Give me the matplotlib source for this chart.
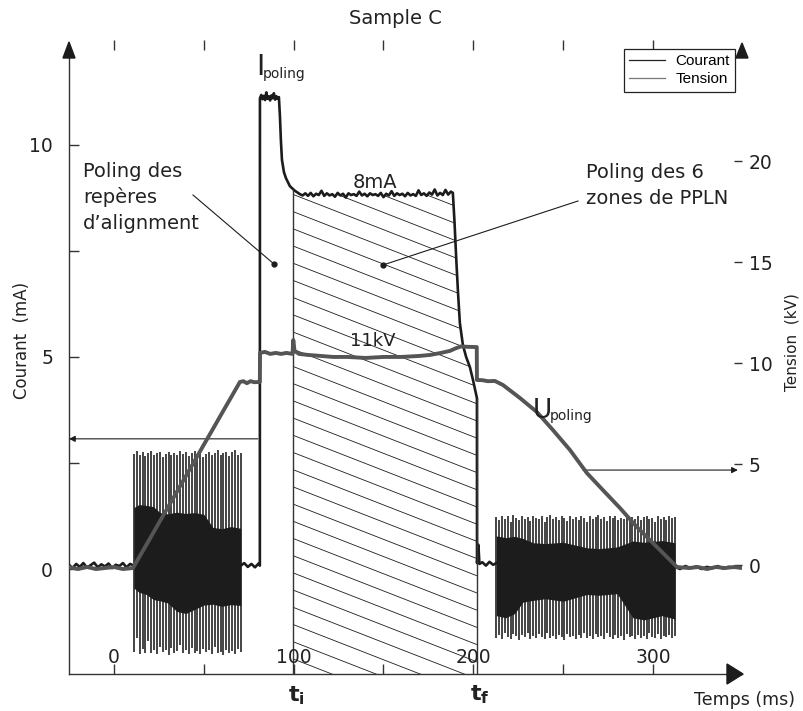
import numpy as np
import matplotlib
matplotlib.use("Agg")
import matplotlib.pyplot as plt
from matplotlib.lines import Line2D
from matplotlib.patches import Polygon

plt.rcParams["font.family"] = ["DejaVu Sans"]

# ------------------------------------------------------------------ data
title = "Sample C"
x_ticks = [0, 50, 100, 150, 200, 250, 300]
x_tick_labels = ["0", "", "100", "", "200", "", "300"]
y_left_ticks = [0, 2.5, 5, 7.5, 10]
y_left_labels = ["0", "", "5", "", "10"]
y_right_ticks = [0, 5, 10, 15, 20]
y_right_labels = ["0", "5", "10", "15", "20"]

# Courant (mA) - slow parts of the trace
cur_pre_t = [-25, -23, -21, -19, -17, -15, -13, -11, -9, -7, -5, -3, -1, 1, 3, 5, 7, 9, 11.1]
cur_pre_v = [0.10, 0.02, 0.12, 0.05, 0.14, 0.03, 0.09, 0.15, 0.04, 0.11, 0.06, 0.13, 0.02,
             0.10, 0.07, 0.14, 0.04, 0.12, 0.08]

cur_mid_t = [70.6, 72.5, 74.5, 76.5, 78.5, 80.5, 81.2, 81.25,
             82, 82.7, 83.4, 84.1, 84.8, 85.5, 86.2, 86.9, 87.6, 88.3, 89, 89.7, 90.4, 91.1, 91.8,
             92.4, 92.9, 93.5, 94.6, 95.7, 97.9, 100.7, 103.5,
             105, 106.5, 108, 109.5, 111, 112.5, 114, 115.5, 117, 118.5, 120, 121.5, 123, 124.5,
             126, 127.5, 129, 130.5, 132, 133.5, 135, 136.5, 138, 139.5, 141, 142.5, 144, 145.5,
             147, 148.5, 150, 151.5, 153, 154.5, 156, 157.5, 159, 160.5, 162, 163.5, 165, 166.5,
             168, 169.5, 171, 172.5, 174, 175.5, 177, 178.5, 180, 181.5, 183, 184.5, 186, 187.5,
             188.6, 189.5, 190.5, 191.5, 192.5, 194.2, 196.0, 198.1, 199.8, 202.0,
             202.05, 202.8, 203.4, 205.0, 207.0, 209.0, 211.0, 212.8]
cur_mid_v = [0.08, 0.14, 0.05, 0.12, 0.04, 0.13, 0.08, 11.10,
             11.18, 11.08, 11.16, 11.06, 11.24, 11.09, 11.15, 11.05, 11.17, 11.10, 11.22, 11.07,
             11.15, 11.09, 11.13,
             10.66, 10.12, 9.65, 9.36, 9.22, 9.03, 8.92, 8.84,
             8.81, 8.86, 8.80, 8.87, 8.79, 8.85, 8.82, 8.92, 8.80, 8.86, 8.81, 8.84, 8.78, 8.87,
             8.81, 8.85, 8.76, 8.86, 8.82, 8.84, 8.80, 8.90, 8.81, 8.85, 8.79, 8.86, 8.82, 8.84,
             8.80, 8.87, 8.77, 8.85, 8.81, 8.91, 8.80, 8.86, 8.82, 8.85, 8.79, 8.87, 8.81, 8.84,
             8.80, 8.93, 8.82, 8.86, 8.80, 8.88, 8.83, 8.95, 8.81, 8.87, 8.82, 8.94, 8.83, 8.90,
             8.87, 8.20, 7.30, 6.50, 5.80, 5.28, 5.00, 4.76, 4.46, 4.03,
             0.14, 0.57, 0.12, 0.16, 0.08, 0.17, 0.10, 0.14]

cur_post_t = [312.2, 315, 318, 321, 324, 327, 330, 333, 336, 339, 342, 345, 349.5]
cur_post_v = [0.05, 0.00, 0.07, 0.02, 0.06, 0.00, 0.05, 0.02, 0.07, 0.01, 0.05, 0.03, 0.04]

# Courant - oscillation bursts (spike extremes and dense core envelope, mA)
burst1_start, burst1_end = 11.1, 70.6
burst1_top = [2.72, 2.78, 2.70, 2.75, 2.66, 2.74, 2.79, 2.69, 2.73, 2.76, 2.65, 2.72, 2.77,
              2.70, 2.74, 2.68, 2.79, 2.71, 2.75, 2.67, 2.73, 2.78, 2.70, 2.76, 2.64, 2.72,
              2.77, 2.69, 2.74, 2.80, 2.68, 2.73, 2.77, 2.66, 2.75, 2.81, 2.70, 2.74]
burst1_bot = [-1.95, -1.62, -2.00, -1.88, -1.97, -1.70, -1.99, -1.92, -2.01, -1.85, -1.96,
              -1.90, -2.02, -1.87, -1.98, -1.93, -1.80, -1.99, -1.91, -2.00, -1.86, -1.97,
              -1.94, -2.01, -1.89, -1.96, -1.92, -2.00, -1.84, -1.98, -1.95, -2.02, -1.90,
              -1.97, -1.93, -2.01, -1.88, -1.96]
burst1_env_t = [11.1, 14, 18, 22, 25.6, 30, 35, 40, 45, 50, 55.1, 60, 65, 70.6]
burst1_env_top = [1.45, 1.52, 1.50, 1.47, 1.33, 1.30, 1.34, 1.31, 1.33, 1.29, 0.98, 0.95, 1.00, 0.96]
burst1_env_bot = [-0.45, -0.55, -0.60, -0.72, -0.75, -0.80, -1.00, -1.05, -0.95, -0.85,
                  -0.83, -0.88, -0.84, -0.86]

burst2_start, burst2_end = 212.8, 312.2
burst2_top = [1.22, 1.15, 1.26, 1.18, 1.24, 1.12, 1.27, 1.20, 1.16, 1.25, 1.19, 1.23, 1.14,
              1.26, 1.21, 1.17, 1.24, 1.11, 1.22, 1.27, 1.18, 1.23, 1.15, 1.25, 1.20, 1.13,
              1.26, 1.19, 1.22, 1.16, 1.24, 1.21, 1.12, 1.25, 1.18, 1.23, 1.27, 1.17, 1.22,
              1.14, 1.24, 1.20, 1.26, 1.16, 1.21, 1.18, 1.25, 1.13, 1.23, 1.19, 1.26, 1.15,
              1.22, 1.24, 1.17, 1.21, 1.12, 1.25, 1.19, 1.23, 1.16, 1.26, 1.20, 1.22]
burst2_bot = [-1.62, -1.55, -1.66, -1.50, -1.60, -1.64, -1.53, -1.59, -1.67, -1.56, -1.61,
              -1.52, -1.65, -1.58, -1.63, -1.54, -1.60, -1.66, -1.51, -1.62, -1.57, -1.64,
              -1.55, -1.60, -1.67, -1.53, -1.61, -1.58, -1.65, -1.56, -1.62, -1.50, -1.63,
              -1.59, -1.66, -1.54, -1.61, -1.57, -1.64, -1.52, -1.60, -1.65, -1.56, -1.62,
              -1.58, -1.67, -1.53, -1.61, -1.59, -1.64, -1.55, -1.63, -1.57, -1.66, -1.52,
              -1.60, -1.62, -1.54, -1.65, -1.58, -1.61, -1.56, -1.63, -1.59]
burst2_env_t = [212.8, 218, 223, 227.6, 233.2, 240, 250, 263.2, 270, 280, 288.8, 295, 305, 312.2]
burst2_env_top = [0.78, 0.74, 0.77, 0.72, 0.62, 0.60, 0.63, 0.50, 0.48, 0.52, 0.66, 0.63, 0.67, 0.62]
burst2_env_bot = [-1.10, -1.15, -1.05, -0.78, -0.74, -0.70, -0.76, -0.60, -0.62, -0.58,
                  -1.15, -1.20, -1.10, -1.18]

# Tension (kV)
volt_t = [-25, -20, -15, -10, -5, 0, 5, 10.6,
          15, 20, 25, 30, 35, 40, 45, 50, 55, 60, 65, 70.1,
          72, 74, 76, 78, 81.2, 81.3, 84, 87, 90, 93, 96, 99.4, 99.8, 100.5,
          103, 108, 115, 122, 130, 140, 150, 160, 170, 176, 182, 187, 190, 193, 197, 201.9,
          202.0, 205, 208, 212, 216.5, 225.9, 235.4, 244.3, 253.8, 263.2, 272.1, 281.6,
          291.0, 299.9, 309.4, 313.3, 320, 325, 330, 335, 340, 345, 349.5]
volt_v = [-0.10, -0.20, -0.10, -0.20, -0.15, -0.10, -0.20, -0.15,
          0.53, 1.30, 2.08, 2.85, 3.62, 4.40, 5.17, 5.95, 6.72, 7.50, 8.27, 9.06,
          9.10, 9.00, 9.10, 9.05, 9.06, 10.50, 10.55, 10.45, 10.50, 10.45, 10.50, 10.45, 11.14, 10.60,
          10.45, 10.40, 10.35, 10.30, 10.30, 10.25, 10.30, 10.30, 10.35, 10.40, 10.50, 10.60, 10.72, 10.82, 10.80, 10.79,
          9.16, 9.15, 9.10, 9.11, 8.91, 8.27, 7.57, 6.68, 5.69, 4.55, 3.71, 2.82,
          1.88, 1.09, 0.25, -0.10, -0.15, -0.10, -0.20, -0.10, -0.15, -0.10, -0.15]

t_i, t_f = 99.6, 202.0
arrow_left_level = 3.07    # mA
arrow_right_level = 4.70   # kV

# ------------------------------------------------------------------ figure
W, H = 804, 711
fig = plt.figure(figsize=(W / 100, H / 100), dpi=100)


def fx(px):
    return px / W


def fy(py):
    return 1 - py / H


DARK = "#1c1c1c"
GREY = "#555555"

ax = fig.add_axes([fx(69), fy(674), (742 - 69) / W, (674 - 45) / H])
ax.set_xlim(-25.0, 349.5)
ax.set_ylim(-2.476, 12.358)
ax2 = ax.twinx()
ax2.set_ylim(-5.396, 25.743)

for s in ["top", "right"]:
    ax.spines[s].set_visible(False)
for s in ["top", "right", "left", "bottom"]:
    ax2.spines[s].set_visible(False)
ax.spines["left"].set_color("#333333")
ax.spines["bottom"].set_color("#333333")
ax.spines["left"].set_linewidth(1.0)
ax.spines["bottom"].set_linewidth(1.0)

# current trace
for tt, vv in [(cur_pre_t, cur_pre_v), (cur_mid_t, cur_mid_v), (cur_post_t, cur_post_v)]:
    ax.plot(tt, vv, color=DARK, lw=1.9, zorder=3)

# bursts
for start, end, tops, bots, et, etop, ebot in [
        (burst1_start, burst1_end, burst1_top, burst1_bot, burst1_env_t, burst1_env_top, burst1_env_bot),
        (burst2_start, burst2_end, burst2_top, burst2_bot, burst2_env_t, burst2_env_top, burst2_env_bot)]:
    tt = np.linspace(start, end, len(tops))
    ax.vlines(tt, 0, tops, color=DARK, lw=1.15, zorder=3)
    tb = np.linspace(start, end, len(bots))
    ax.vlines(tb, bots, 0, color=DARK, lw=1.15, zorder=3)
    ax.fill_between(et, ebot, etop, color=DARK, lw=0, zorder=3)

# t_i / t_f markers
ylo = ax.get_ylim()[0]
ci = float(np.interp(t_i, cur_mid_t, cur_mid_v))
cf = float(np.interp(t_f, cur_mid_t, cur_mid_v))
ax.vlines([t_i], ylo, ci, color="#333333", lw=1.0, zorder=3)
ax.vlines([t_f], ylo, cf, color="#333333", lw=1.0, zorder=3)

# hatched region under the current between t_i and t_f
cmt = np.array(cur_mid_t)
cmv = np.array(cur_mid_v)
m = (cmt > t_i) & (cmt < t_f)
px_ = [t_i, t_i] + list(cmt[m]) + [t_f, t_f]
py_ = [ylo, ci] + list(cmv[m]) + [cf, ylo]
clip = Polygon(np.column_stack([px_, py_]), closed=True, facecolor="none",
               edgecolor="none", transform=ax.transData)
ax.add_patch(clip)
for k in range(-5, 40):
    c0 = 8.43 - 0.4057 * k
    ln, = ax.plot([t_i, t_f], [c0, c0 - 0.01653 * (t_f - t_i)], color=DARK, lw=0.6, zorder=2)
    ln.set_clip_path(clip)

# voltage trace
ax2.plot(volt_t, volt_v, color=GREY, lw=2.8, zorder=4)

# arrows toward the axes
ax.annotate("", xy=(-25.0, arrow_left_level), xytext=(80.1, arrow_left_level),
            arrowprops=dict(arrowstyle="-|>", color=DARK, lw=0.8, mutation_scale=9,
                            shrinkA=0, shrinkB=0))
ax2.annotate("", xy=(347.2, arrow_right_level), xytext=(261.0, arrow_right_level),
             arrowprops=dict(arrowstyle="-|>", color=DARK, lw=0.8, mutation_scale=9,
                             shrinkA=0, shrinkB=0))

# ticks
ax.set_xticks(x_ticks)
ax.tick_params(axis="x", direction="in", length=7, width=1, color="#333333", labelbottom=False)
for xv, lab in zip(x_ticks, x_tick_labels):
    if lab:
        ax.text(xv, 0.027, lab, transform=ax.get_xaxis_transform(), ha="center",
                va="center", fontsize=13.5, color="#222222")
ax.set_yticks(y_left_ticks)
ax.set_yticklabels(y_left_labels)
ax.tick_params(axis="y", direction="in", length=7, width=1, color="#333333", pad=11.5,
               labelsize=13.5, labelcolor="#222222")
ax2.set_yticks(y_right_ticks)
ax2.set_yticklabels(y_right_labels)
ax2.tick_params(axis="y", direction="in", length=6, width=1, color="#333333", pad=5,
                labelsize=13.5, labelcolor="#222222")
sec = ax.secondary_xaxis("top")
sec.set_xticks(x_ticks)
sec.set_xticklabels([])
sec.tick_params(direction="inout", length=7, width=1, color="#333333")
sec.spines["top"].set_visible(False)

# overlay in pixel coordinates for arrow heads and annotations
ov = fig.add_axes([0, 0, 1, 1])
ov.set_xlim(0, W)
ov.set_ylim(H, 0)
ov.axis("off")
ov.patch.set_alpha(0)
ov.fill([63, 75, 69], [58, 58, 42], color=DARK)
ov.fill([736, 748, 742], [58, 58, 43], color=DARK)
ov.fill([727, 727, 743], [664, 684, 674], color=DARK)

ov.plot([193, 274], [195, 264], color=DARK, lw=0.8)
ov.plot([274], [264], "o", ms=3.5, color=DARK)
ov.plot([383, 578], [265, 201], color=DARK, lw=0.8)
ov.plot([383], [265], "o", ms=3.5, color=DARK)

TXT = "#222222"
ov.text(83, 177, "Poling des", fontsize=14, color=TXT, va="baseline")
ov.text(83, 203, "repères", fontsize=14, color=TXT, va="baseline")
ov.text(83, 229, "d\u2019alignment", fontsize=14, color=TXT, va="baseline")
ov.text(586, 178, "Poling des 6", fontsize=14, color=TXT, va="baseline")
ov.text(586, 204, "zones de PPLN", fontsize=14, color=TXT, va="baseline")
ov.text(375, 183, "8mA", fontsize=14, color=TXT, ha="center", va="center")
ov.text(373, 341, "11kV", fontsize=13, color=TXT, ha="center", va="center")
ov.text(260, 75, "I", fontsize=20, color=TXT, ha="center", va="baseline")
ov.text(263, 78, "poling", fontsize=10, color=TXT, ha="left", va="baseline")
ov.text(542, 418, "U", fontsize=19, color=TXT, ha="center", va="baseline")
ov.text(550, 420, "poling", fontsize=10, color=TXT, ha="left", va="baseline")
ov.text(296, 701, r"$\mathbf{t}_{\mathbf{i}}$", fontsize=16, color=TXT, ha="center", va="baseline")
ov.text(480, 700, r"$\mathbf{t}_{\mathbf{f}}$", fontsize=16, color=TXT, ha="center", va="baseline")
ov.text(745, 700, "Temps (ms)", fontsize=12.5, color=TXT, ha="center", va="center")

fig.text(fx(395), fy(19), title, fontsize=14, color=TXT, ha="center", va="center")
fig.text(fx(22), fy(340), "Courant  (mA)", fontsize=12, color=TXT, rotation=90,
         ha="center", va="center")
fig.text(fx(792), fy(342), "Tension  (kV)", fontsize=11, color=TXT, rotation=90,
         ha="center", va="center")

handles = [Line2D([], [], color="#222222", lw=0.9), Line2D([], [], color="#777777", lw=0.9)]
leg = fig.legend(handles, ["Courant", "Tension"], loc="upper right",
                 bbox_to_anchor=(fx(735), fy(49)), prop={"family": "Liberation Sans", "size": 11},
                 frameon=True, fancybox=False, edgecolor="#222222", framealpha=1,
                 borderpad=0.35, handlelength=2.3, handletextpad=0.7, labelspacing=0.25,
                 borderaxespad=0)
leg.get_frame().set_linewidth(0.9)

fig.savefig("out.png", dpi=100)
